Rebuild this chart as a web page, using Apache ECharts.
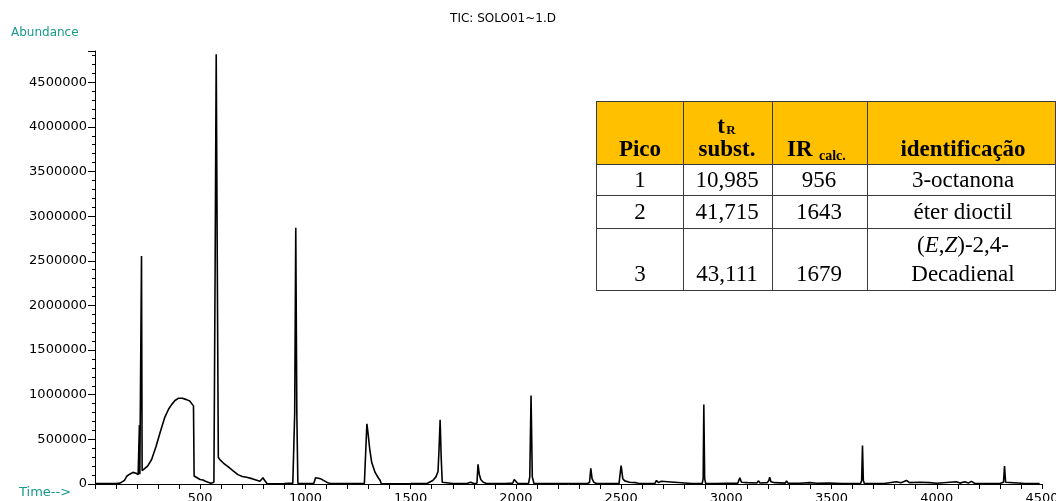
<!DOCTYPE html>
<html>
<head>
<meta charset="utf-8">
<script src="https://cdn.jsdelivr.net/npm/echarts@6/dist/echarts.min.js"></script>
<style>
  html, body { margin: 0; padding: 0; background: #fff; }
  #chart { width: 1056px; height: 501px; }
</style>
</head>
<body>
<div id="chart"></div>
<script>
// ---- Chromatogram data ----
const times = [
  0, 100, 119, 140, 152, 165, 180, 195, 205, 209, 211, 213, 218, 221, 224, 230,
  250, 269, 290, 309, 332, 350, 364, 380, 396, 415, 435, 450, 459, 468, 471,
  480, 489, 495, 500, 505, 513, 525, 537, 550, 558, 565, 571, 576, 581, 586, 592,
  610, 632, 655, 679, 700, 720, 746, 765, 784, 792, 798, 805, 817, 850, 900, 940,
  944, 949, 954, 959, 964, 1000, 1040, 1048, 1053, 1062, 1075, 1090, 1105, 1120,
  1200, 1280, 1287, 1292, 1298, 1305, 1315, 1331, 1346, 1355, 1360, 1420, 1500,
  1580, 1605, 1620, 1630, 1635, 1640, 1645, 1650, 1700, 1770, 1778, 1785, 1800,
  1815, 1820, 1826, 1833, 1845, 1860, 1950, 1985, 1992, 2000, 2008, 2060, 2066,
  2072, 2078, 2086, 2150, 2280, 2288, 2296, 2340, 2350, 2356, 2362, 2370, 2380,
  2490, 2500, 2508, 2517, 2540, 2570, 2575, 2582, 2660, 2668, 2678, 2689, 2697,
  2835, 2841, 2848, 2885, 2890, 2893, 2897, 2902, 2950, 3000, 3055, 3064, 3072,
  3100, 3145, 3153, 3160, 3195, 3202, 3206, 3212, 3230, 3280, 3286, 3293, 3350,
  3396, 3430, 3487, 3550, 3638, 3643, 3647, 3651, 3656, 3750, 3808, 3830, 3856,
  3870, 3919, 3966, 4000, 4093, 4110, 4133, 4150, 4164, 4180, 4300, 4317, 4322,
  4327, 4335, 4420, 4489
];
const abundance = [
  5000, 5000, 10000, 40000, 90000, 110000, 130000, 120000, 105000, 100000, 660000, 110000, 130000, 2555000, 150000, 160000,
  200000, 274000, 420000, 575000, 750000, 840000, 889000, 935000, 960000, 960000, 945000, 930000, 908000, 875000, 90000,
  75000, 65000, 80000, 50000, 60000, 45000, 30000, 20000, 8000, 10000, 20000, 2500000, 4813000, 2500000, 300000, 275000,
  235000, 195000, 150000, 105000, 85000, 75000, 60000, 45000, 30000, 40000, 70000, 45000, 5000, 3000, 5000, 10000,
  8000, 800000, 2870000, 800000, 8000, 5000, 8000, 70000, 90000, 65000, 55000, 35000, 15000, 5000,
  4000, 5000, 20000, 675000, 560000, 400000, 240000, 130000, 70000, 40000, 5000, 3000, 5000,
  8000, 40000, 80000, 140000, 400000, 720000, 300000, 20000, 5000, 8000, 30000, 20000, 5000,
  8000, 220000, 110000, 50000, 20000, 5000, 6000, 10000, 50000, 40000, 8000, 5000, 80000,
  990000, 80000, 5000, 5000, 5000, 15000, 5000, 5000, 20000, 175000, 60000, 20000, 8000,
  5000, 205000, 60000, 35000, 20000, 15000, 30000, 8000, 5000, 40000, 15000, 30000, 8000,
  5000, 15000, 5000, 5000, 60000, 890000, 60000, 5000, 5000, 8000, 10000, 70000, 20000,
  15000, 12000, 35000, 12000, 15000, 40000, 75000, 25000, 15000, 10000, 35000, 10000, 8000,
  15000, 8000, 12000, 6000, 5000, 40000, 430000, 40000, 5000, 6000, 25000, 15000, 40000,
  15000, 20000, 15000, 8000, 25000, 10000, 25000, 10000, 30000, 8000, 6000, 20000, 200000,
  20000, 6000, 5000, 5000
];

// ---- Axis / label settings ----
const xTickStep = 500;
const yTickStep = 500000;
const titleText = 'TIC: SOLO01~1.D';
const yAxisTitle = 'Abundance';
const xAxisTitle = 'Time-->';

// ---- Table (Pico / tR / IR / identificação) ----
const picos = ['1', '2', '3'];
const tRsubst = ['10,985', '41,715', '43,111'];
const irCalc = ['956', '1643', '1679'];
const identificacao = ['3-octanona', 'éter dioctil', '({i|E},{i|Z})-2,4-\nDecadienal'];

const chart = echarts.init(document.getElementById('chart'), null, { renderer: 'canvas' });

const serif = '"Liberation Serif", "Times New Roman", serif';
const teal = '#17998c';

function txt(x, y, text, opts) {
  opts = opts || {};
  const st = {
    text: text,
    x: x, y: y,
    fontSize: opts.size || 23,
    fontFamily: serif,
    fontWeight: opts.bold ? 'bold' : 'normal',
    fontStyle: 'normal',
    fill: '#000',
    textAlign: opts.align || 'center',
    align: opts.align || 'center',
    textVerticalAlign: 'middle',
    verticalAlign: 'middle'
  };
  if (opts.rich) st.rich = opts.rich;
  return { type: 'text', z: 20, style: st };
}

// table geometry
const colX = [596, 683, 772, 867, 1055];
const rowY = [101, 164, 195, 228, 290];
const graphics = [];
graphics.push({ type: 'rect', z: 10, shape: { x: colX[0], y: rowY[0], width: colX[4] - colX[0], height: rowY[1] - rowY[0] }, style: { fill: '#FFC000', stroke: null } });
graphics.push({ type: 'rect', z: 10, shape: { x: colX[0], y: rowY[1], width: colX[4] - colX[0], height: rowY[4] - rowY[1] }, style: { fill: '#fff', stroke: null } });
colX.forEach(function (cx) {
  graphics.push({ type: 'line', z: 15, shape: { x1: cx + 0.5, y1: rowY[0], x2: cx + 0.5, y2: rowY[4] }, style: { stroke: '#3a3a3a', lineWidth: 1 } });
});
rowY.forEach(function (ry) {
  graphics.push({ type: 'line', z: 15, shape: { x1: colX[0], y1: ry + 0.5, x2: colX[4] + 1, y2: ry + 0.5 }, style: { stroke: '#3a3a3a', lineWidth: 1 } });
});
const cCol = [640, 727, 819, 963];
graphics.push(txt(cCol[0], 150, 'Pico', { bold: true }));
graphics.push(txt(721, 127, 't', { bold: true }));
graphics.push(txt(731, 131, 'R', { bold: true, size: 13 }));
graphics.push(txt(cCol[1], 150, 'subst.', { bold: true }));
graphics.push(txt(787, 150, 'IR', { bold: true, align: 'left' }));
graphics.push(txt(819, 156, 'calc.', { bold: true, size: 14, align: 'left' }));
graphics.push(txt(cCol[3], 150, 'identificação', { bold: true }));
const bodyY = [181, 213, 275];
for (let i = 0; i < picos.length; i++) {
  graphics.push(txt(cCol[0], bodyY[i], picos[i]));
  graphics.push(txt(cCol[1], bodyY[i], tRsubst[i]));
  graphics.push(txt(cCol[2], bodyY[i], irCalc[i]));
  const id = identificacao[i];
  if (id.indexOf('\n') >= 0) {
    const parts = id.split('\n');
    graphics.push(txt(cCol[3], 246, parts[0], { rich: { i: { fontStyle: 'italic', fontSize: 23, fontFamily: serif } } }));
    graphics.push(txt(cCol[3], 275, parts[1]));
  } else {
    graphics.push(txt(cCol[3], bodyY[i], id));
  }
}
graphics.push({ type: 'text', z: 20, style: { text: titleText, x: 503, y: 19, fontSize: 12, fontFamily: 'DejaVu Sans', fill: '#000', textAlign: 'center', align: 'center', textVerticalAlign: 'middle', verticalAlign: 'middle' } });
graphics.push({ type: 'text', z: 20, style: { text: yAxisTitle, x: 11, y: 33, fontSize: 12, fontFamily: 'DejaVu Sans', fill: teal, textAlign: 'left', align: 'left', textVerticalAlign: 'middle', verticalAlign: 'middle' } });
graphics.push({ type: 'text', z: 20, style: { text: xAxisTitle, x: 19, y: 493, fontSize: 13, fontFamily: 'DejaVu Sans', fill: teal, textAlign: 'left', align: 'left', textVerticalAlign: 'middle', verticalAlign: 'middle' } });

const option = {
  animation: false,
  backgroundColor: '#fff',
  grid: { left: 95, right: 14, top: 51, bottom: 17, containLabel: false, outerBoundsMode: 'none' },
  xAxis: {
    type: 'value', min: 0, max: 4500, interval: xTickStep,
    axisLine: { show: true, onZero: false, lineStyle: { color: '#000', width: 1 } },
    axisTick: { show: true, length: 5, lineStyle: { color: '#000' } },
    minorTick: { show: true, splitNumber: 5, length: 5, lineStyle: { color: '#000' } },
    splitLine: { show: false }, minorSplitLine: { show: false },
    axisLabel: {
      showMinLabel: false, margin: 8, fontSize: 13, fontFamily: 'DejaVu Sans', color: '#000',
      formatter: function (v) { return String(v); }
    }
  },
  yAxis: {
    type: 'value', min: 0, max: 4850000, interval: yTickStep,
    axisLine: { show: true, lineStyle: { color: '#000', width: 1 } },
    axisTick: { show: true, length: 7, lineStyle: { color: '#000' } },
    minorTick: { show: true, splitNumber: 5, length: 3, lineStyle: { color: '#000' } },
    splitLine: { show: false }, minorSplitLine: { show: false },
    axisLabel: {
      showMaxLabel: false, margin: 8, fontSize: 13, fontFamily: 'DejaVu Sans', color: '#000',
      formatter: function (v) { return (v % yTickStep === 0) ? String(v) : ''; }
    }
  },
  series: [{
    type: 'line',
    data: times.map(function (t, i) { return [t, abundance[i]]; }),
    showSymbol: false,
    symbol: 'none',
    lineStyle: { color: '#000', width: 1.6 },
    z: 5
  }],
  graphic: graphics
};
chart.setOption(option);
</script>
</body>
</html>
